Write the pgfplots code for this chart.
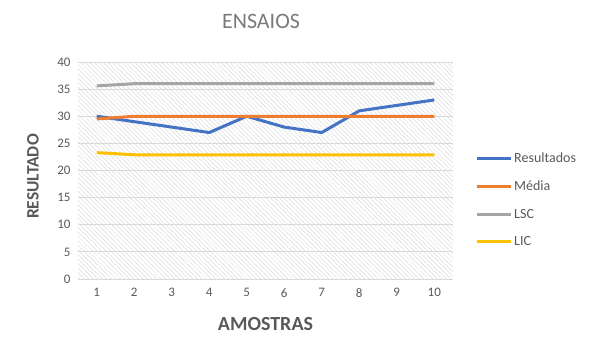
\documentclass[border=0pt]{standalone}
\usepackage{fontspec}
\setmainfont{Carlito}
\usepackage{pgfplots}
\pgfplotsset{compat=1.18}
\usetikzlibrary{patterns.meta}
\definecolor{cblue}{HTML}{4472C4}
\definecolor{corange}{HTML}{ED7D31}
\definecolor{cgray}{HTML}{A5A5A5}
\definecolor{cyellow}{HTML}{FFC000}
\definecolor{txt}{HTML}{595959}
\definecolor{grid}{HTML}{D9D9D9}
\begin{document}
\begin{tikzpicture}
\begin{axis}[
  name=ax,
  scale only axis,
  width=375pt, height=217pt,
  xmin=0.5, xmax=10.5,
  ymin=0, ymax=40,
  xtick={1,...,10},
  ytick={0,5,...,40},
  /pgf/number format/assume math mode=true,
  ticklabel style={font=\fontsize{13}{15}\selectfont, text=txt},
  xticklabel style={yshift=-6pt},
  yticklabel style={xshift=-4pt},
  major tick length=0pt,
  axis line style={draw=none},
  ymajorgrids,
  grid style={draw=grid, line width=0.9pt},
  axis background/.style={pattern={Lines[angle=-45, distance=3.2pt, line width=0.5pt]}, pattern color=black!14},
  title={ENSAIOS},
  title style={at={(axis description cs:0.488,1)}, anchor=center, yshift=35pt, font=\fontsize{22}{26}\selectfont, text=black!52},
  xlabel={\textbf{AMOSTRAS}},
  xlabel style={at={(axis description cs:0.5,0)}, anchor=center, yshift=-45.5pt, font=\fontsize{20}{23}\selectfont, text=txt},
  ylabel={\textbf{RESULTADO}},
  ylabel style={at={(axis description cs:-0.12,0.472)}, anchor=center, font=\fontsize{17.5}{20}\selectfont, text=txt},
  legend style={draw=none, fill=none, at={(axis description cs:1,0.364)}, anchor=west, xshift=22pt, font=\fontsize{14}{16}\selectfont, text=txt, row sep=12.8pt, inner sep=0pt},
  legend cell align=left,
  legend image code/.code={\draw[#1, line width=3pt] (0pt,0pt) -- (34pt,0pt);},
  every axis plot/.append style={line width=3pt, mark=none, line join=round},
  clip=false,
]
\addplot[cblue] coordinates {(1,30) (2,29) (3,28) (4,27) (5,30) (6,28) (7,27) (8,31) (9,32) (10,33)};
\addlegendentry{Resultados}
\addplot[corange] coordinates {(1,29.5) (2,30) (3,30) (4,30) (5,30) (6,30) (7,30) (8,30) (9,30) (10,30)};
\addlegendentry{Média}
\addplot[cgray] coordinates {(1,35.6) (2,36) (3,36) (4,36) (5,36) (6,36) (7,36) (8,36) (9,36) (10,36)};
\addlegendentry{LSC}
\addplot[cyellow] coordinates {(1,23.3) (2,22.9) (3,22.9) (4,22.9) (5,22.9) (6,22.9) (7,22.9) (8,22.9) (9,22.9) (10,22.9)};
\addlegendentry{LIC}
\end{axis}
\pgfresetboundingbox
\path[use as bounding box] (-78pt,-83pt) rectangle (521pt,279pt);
\end{tikzpicture}
\end{document}
